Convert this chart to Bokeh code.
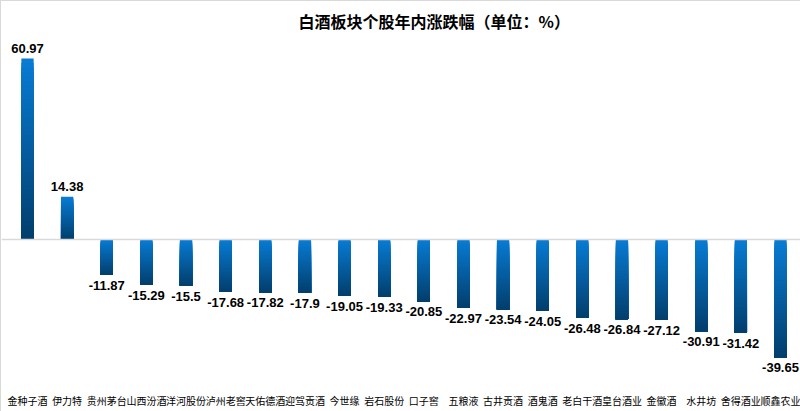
from bokeh.plotting import figure
from bokeh.models import Range1d, Span, ColumnDataSource, FixedTicker
from bokeh.core.properties import value
from bokeh.embed import file_html
from bokeh.resources import INLINE

# ---- data ----
stocks = ["金种子酒", "伊力特", "贵州茅台", "山西汾酒", "洋河股份", "泸州老窖", "天佑德酒",
          "迎驾贡酒", "今世缘", "岩石股份", "口子窖", "五粮液", "古井贡酒", "酒鬼酒",
          "老白干酒", "皇台酒业", "金徽酒", "水井坊", "舍得酒业", "顺鑫农业"]
changes = [60.97, 14.38, -11.87, -15.29, -15.5, -17.68, -17.82, -17.9, -19.05, -19.33,
           -20.85, -22.97, -23.54, -24.05, -26.48, -26.84, -27.12, -30.91, -31.42, -39.65]
title_text = "白酒板块个股年内涨跌幅（单位：%）"

# ---- colours for vertical gradient (top bright -> bottom dark) ----
top_rgb = (0x08, 0x7c, 0xd4)
bot_rgb = (0x02, 0x3e, 0x6c)
N_SEG = 40

def mix(t):
    r = [round(a + (b - a) * t) for a, b in zip(top_rgb, bot_rgb)]
    return "#%02x%02x%02x" % tuple(r)

xs = list(range(len(stocks)))
seg_x, seg_top, seg_bot, seg_col = [], [], [], []
for i, v in zip(xs, changes):
    hi, lo = max(v, 0.0), min(v, 0.0)
    for k in range(N_SEG):
        t0 = k / N_SEG
        seg_x.append(i)
        seg_top.append(hi - (hi - lo) * t0)
        seg_bot.append(lo)  # each slice runs to the bar end; later slices cover it
        seg_col.append(mix((k + 0.5) / N_SEG))

seg_src = ColumnDataSource(dict(x=seg_x, top=seg_top, bottom=seg_bot, color=seg_col))

pos_src = ColumnDataSource(dict(x=[i for i, v in zip(xs, changes) if v >= 0],
                                y=[v for v in changes if v >= 0],
                                t=[f"{v:g}" for v in changes if v >= 0]))
neg_src = ColumnDataSource(dict(x=[i for i, v in zip(xs, changes) if v < 0],
                                y=[v for v in changes if v < 0],
                                t=[f"{v:g}" for v in changes if v < 0]))

W, H = 800, 411
FR_TOP, FR_BOT = 36, 383
step = 753 / 19.0
x_start = -26 / step
x_end = x_start + W / step
scale = 181 / 60.97
y_top = (238 - FR_TOP) / scale
y_bot = -(FR_BOT - 238) / scale

p = figure(width=W, height=H, output_backend="svg", toolbar_location=None,
           x_range=Range1d(x_start, x_end), y_range=Range1d(y_bot, y_top),
           min_border_left=0, min_border_right=0, min_border_top=FR_TOP,
           min_border_bottom=H - FR_BOT, title=title_text)
p.styles = {"border-top": "1px solid #d9d9d9", "border-left": "1px solid #d9d9d9",
            "box-sizing": "border-box"}
p.title.align = "left"
p.title.offset = 297
p.title.text_font = "Noto Sans CJK SC"
p.title.text_font_size = "16px"
p.title.text_font_style = "bold"
p.title.text_color = "#000000"

p.vbar(x="x", top="top", bottom="bottom", width=0.31, color="color", source=seg_src,
       line_color=None)

p.add_layout(Span(location=0, dimension="width", line_color="#d9d9d9", line_width=1.5))

p.text(x="x", y="y", text="t", source=pos_src, text_align="center", text_baseline="bottom",
       y_offset=-6, text_font=value("Liberation Sans"), text_font_style="bold",
       text_font_size="13px", text_color="#000000")
p.text(x="x", y="y", text="t", source=neg_src, text_align="center", text_baseline="top",
       y_offset=6, text_font=value("Liberation Sans"), text_font_style="bold",
       text_font_size="13px", text_color="#000000")

p.xaxis.ticker = FixedTicker(ticks=xs)
p.xaxis.major_label_overrides = {i: s for i, s in zip(xs, stocks)}
p.xaxis.major_label_text_font = "Noto Sans CJK SC"
p.xaxis.major_label_text_font_size = "10px"
p.xaxis.major_label_text_color = "#000000"
p.xaxis.major_label_standoff = 8
p.xaxis.major_tick_out = 0
p.xaxis.major_tick_in = 0
p.xaxis.axis_line_color = None
p.xaxis.major_tick_line_color = None
p.xaxis.minor_tick_line_color = None
p.yaxis.visible = False
p.grid.visible = False
p.outline_line_color = None

open("out.html", "w").write(file_html(p, INLINE))
